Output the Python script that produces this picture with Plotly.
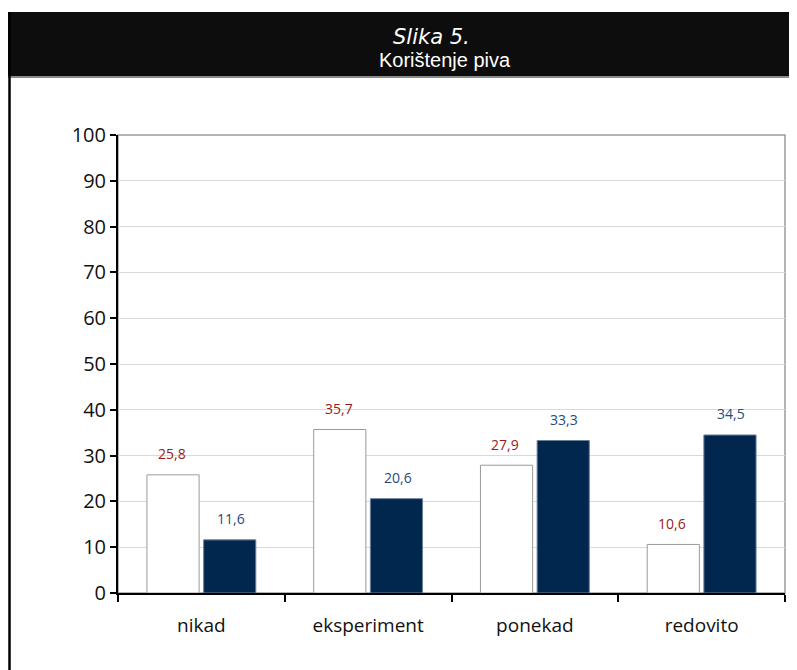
import plotly.graph_objects as go

categories = ["nikad", "eksperiment", "ponekad", "redovito"]
series_white = [25.8, 35.7, 27.9, 10.6]
series_dark = [11.6, 20.6, 33.3, 34.5]
label_white = ["25,8", "35,7", "27,9", "10,6"]
label_dark = ["11,6", "20,6", "33,3", "34,5"]
y_ticks = [0, 10, 20, 30, 40, 50, 60, 70, 80, 90, 100]

# page is rendered with an 8px body margin: figure px = page px - 8
OFF = 8
W, H = 797, 670
L, R, T, B = 118 - OFF, 797 - (785 - OFF), 135 - OFF, 670 - (593 - OFF)
PW, PH = W - L - R, H - T - B


def px_x(x):
    return (x - OFF - L) / PW


def px_y(y):
    return 1 - (y - OFF - T) / PH


fig = go.Figure()
fig.add_trace(go.Bar(
    x=categories, y=series_white, name="a",
    marker=dict(color="white", line=dict(color="#9a9a9a", width=1)),
))
fig.add_trace(go.Bar(
    x=categories, y=series_dark, name="b",
    marker=dict(color="#01274f", line=dict(color="#6d7f99", width=1)),
))

annotations = []
for c, v, t in zip(categories, series_white, label_white):
    annotations.append(dict(x=c, y=v, xref="x", yref="y", text=t, showarrow=False,
                            xshift=-29.5, yshift=21, yanchor="middle",
                            font=dict(family="Open Sans", size=14, color="#961b1b")))
for c, v, t in zip(categories, series_dark, label_dark):
    annotations.append(dict(x=c, y=v, xref="x", yref="y", text=t, showarrow=False,
                            xshift=29.5, yshift=21, yanchor="middle",
                            font=dict(family="Open Sans", size=14, color="#1d4c82")))

annotations.append(dict(x=px_x(431), y=px_y(37), xref="paper", yref="paper",
                        text="<i>Slika 5.</i>", showarrow=False, xanchor="center", yanchor="middle",
                        font=dict(family="DejaVu Sans", size=21, color="white")))
annotations.append(dict(x=px_x(445), y=px_y(60), xref="paper", yref="paper",
                        text="Korištenje piva", showarrow=False, xanchor="center", yanchor="middle",
                        font=dict(family="Liberation Sans", size=20, color="white")))

shapes = [
    # title bar
    dict(type="rect", xref="paper", yref="paper", x0=px_x(8), x1=px_x(810), y0=px_y(77), y1=px_y(12),
         fillcolor="#0d0d0d", line=dict(width=0), layer="below"),
    dict(type="line", xref="paper", yref="paper", x0=px_x(8), x1=px_x(810), y0=px_y(77), y1=px_y(77),
         line=dict(color="#8a8a8a", width=2)),
    # left border of frame
    dict(type="line", xref="paper", yref="paper", x0=px_x(9.5), x1=px_x(9.5), y0=px_y(12), y1=px_y(690),
         line=dict(color="black", width=2.5)),
    # plot area border (top / right)
    dict(type="rect", xref="paper", yref="paper", x0=0, x1=1, y0=0, y1=1,
         line=dict(color="#9a9a9a", width=1.5), layer="below"),
]

fig.update_layout(
    width=W, height=H,
    margin=dict(l=L, r=R, t=T, b=B, pad=0),
    paper_bgcolor="white", plot_bgcolor="white",
    showlegend=False,
    barmode="group", bargap=0.32, bargroupgap=0.08,
    annotations=annotations, shapes=shapes,
    font=dict(family="Open Sans", color="#111111"),
)
fig.update_yaxes(
    range=[0, 100], tickvals=y_ticks, ticktext=[str(v) for v in y_ticks],
    showgrid=True, gridcolor="#d9d9d9", gridwidth=1,
    showline=True, linecolor="black", linewidth=2,
    ticks="outside", ticklen=6, tickwidth=2, tickcolor="black",
    tickfont=dict(family="Open Sans", size=20, color="#111111"),
    ticklabelstandoff=0, zeroline=False,
)
fig.update_xaxes(
    showline=True, linecolor="black", linewidth=2,
    ticks="outside", tickson="boundaries", ticklen=7, tickwidth=2, tickcolor="black",
    tickfont=dict(family="Open Sans", size=19, color="#111111"),
    ticklabelstandoff=14, showgrid=False,
)

fig.write_html("out.html")
